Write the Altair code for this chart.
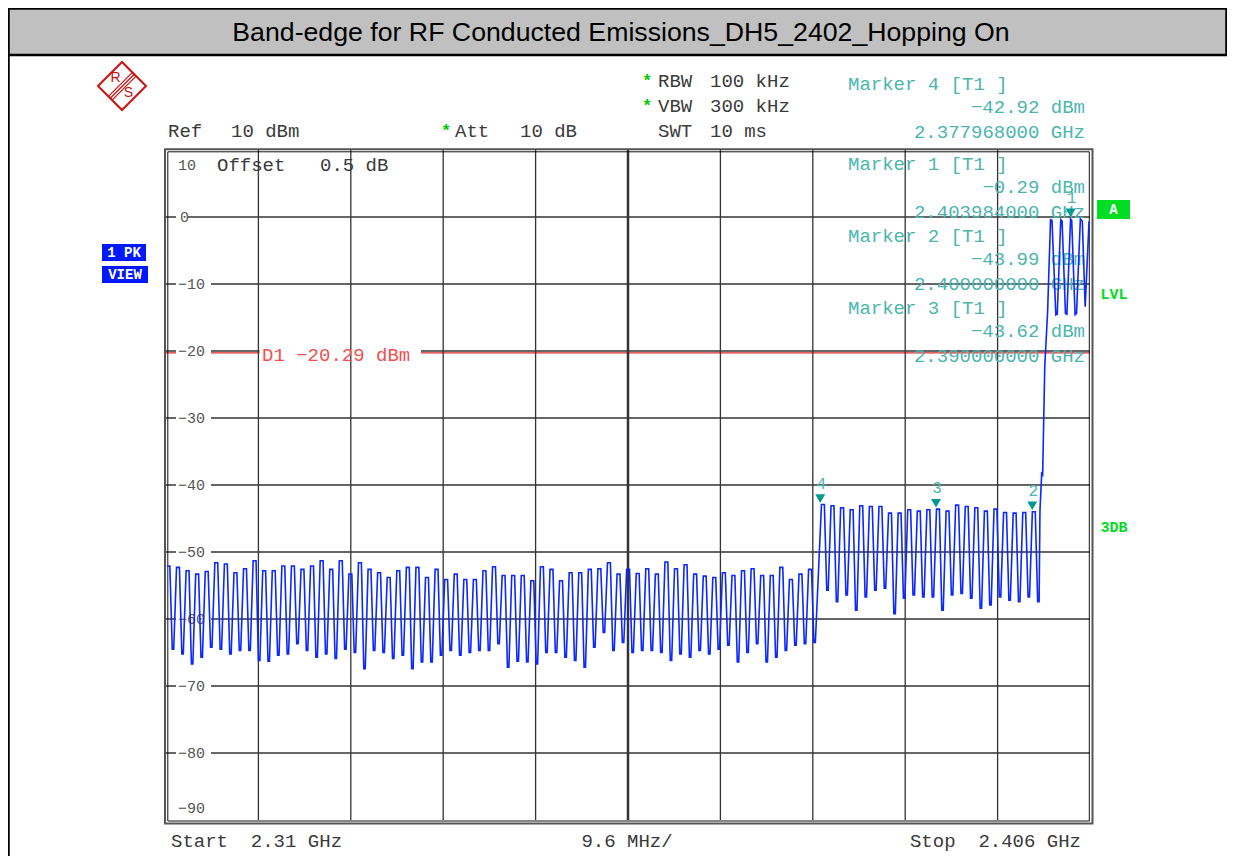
import altair as alt
import pandas as pd

# ---------------- data ----------------
START_MHZ = 2310.0
STOP_MHZ = 2406.0
DIV_MHZ = 9.6
REF_TOP = 10
REF_BOTTOM = -90

# hop peaks / troughs below the step (dBm)
low_peaks = [-52.1, -52.3, -52.8, -53.3, -52.9, -51.6, -51.8, -53.1, -52.5, -51.3, -52.8, -52.8, -52.1, -52.1, -52.6, -52.1, -51.3,
             -52.6, -51.3, -53.3, -51.6, -52.6, -53.1, -53.8, -52.8, -52.3, -52.3, -53.8, -52.6, -54.1, -53.3, -54.1, -54.1, -52.8,
             -52.2, -53.5, -53.5, -53.5, -54.3, -52.2, -52.6, -54.3, -53.1, -53.1, -52.6, -52.5, -51.6, -53.3, -52.6, -53.2,
             -52.5, -53.3, -51.5, -52.5, -51.9, -53.3, -53.6, -53.8, -53.1, -53.5, -52.8, -52.5, -53.5, -53.5, -52.3, -54.1, -53.3, -52.6]
low_troughs = [-64.5, -65.2, -66.7, -65.7, -64.2, -64.5, -65.2, -64.7, -64.7, -66.2, -66.3, -65.4, -65.2, -63.7, -64.7, -65.7, -65.2,
               -65.9, -64.5, -65.0, -67.4, -64.7, -65.0, -65.9, -65.4, -67.4, -66.4, -66.4, -65.4, -64.7, -65.4, -65.0, -64.7,
               -64.7, -63.7, -67.2, -66.3, -66.4, -66.7, -65.0, -65.0, -65.7, -66.2, -67.2, -64.2, -62.0, -64.7, -63.5, -65.0, -64.7,
               -64.7, -65.0, -66.2, -65.2, -65.7, -64.7, -65.2, -64.5, -63.9, -66.4, -65.0, -63.7, -66.4, -65.7, -64.7, -63.9, -63.7, -63.5]
LOW_FIRST_PEAK = 2310.1
LOW_SPACING = 0.995

# hop peaks / troughs between the step and the band edge (dBm)
mid_peaks = [-42.9, -43.1, -43.4, -43.7, -43.1, -43.2, -43.2, -44.2, -44.2, -43.7, -43.9, -43.7, -43.6, -43.9, -43.0,
             -43.2, -43.4, -43.9, -43.6, -44.1, -44.2, -44.1, -44.0]
mid_troughs = [-55.7, -57.4, -56.4, -58.7, -56.7, -55.7, -55.4, -59.2, -56.9, -56.4, -56.7, -56.7, -58.7, -56.4, -56.2,
               -56.9, -58.4, -57.9, -56.7, -57.2, -57.4, -56.7, -57.4]
MID_FIRST_PEAK = 2378.1
MID_SPACING = 0.996

# shape of one hop inside its 1 MHz slot (MHz offsets): top start, top end, bottom start, bottom end
TOP_END, BOT_START, BOT_END = 0.3, 0.55, 0.7

# rise into the in-band channel (MHz, dBm)
edge_freqs = [2400.8, 2400.98, 2401.08, 2401.3, 2401.6, 2401.9, 2402.05, 2402.45, 2402.6, 2402.96, 2403.1, 2403.45,
              2403.6, 2403.98, 2404.1, 2404.45, 2404.6, 2405.0, 2405.2, 2405.5, 2405.9]
edge_levels = [-43.9, -38.3, -38.5, -22.3, -14.0, -0.4, -0.5, -14.6, -14.5, -0.4, -0.6, -14.4, -14.5, -0.29, -0.5,
               -14.6, -14.4, -0.3, -0.6, -13.4, -0.65]

marker_ids = ["1", "2", "3", "4"]
marker_freqs = [2403.984, 2400.0, 2390.0, 2377.968]
marker_levels = [-0.29, -43.99, -43.62, -42.92]

d1_level = -20.29
grid_levels = [0, -10, -20, -30, -40, -50, -60, -70, -80]
tick_labels = ["10", "0", "−10", "−20", "−30", "−40", "−50", "−60", "−70", "−80", "−90"]

TITLE = "Band-edge for RF Conducted Emissions_DH5_2402_Hopping On"

# ---------------- layout ----------------
W, H = 924, 670
X0, Y0 = 166, 150          # page position of the plot origin
MONO = "Liberation Mono"
TEAL = "#4cb5b0"
TEAL_DARK = "#009a94"
GREEN = "#00dd22"
BLUE = "#0a28ff"
RED = "#e02828"
NB = "\u00a0"

xs = alt.Scale(domain=[START_MHZ, STOP_MHZ], nice=False, zero=False)
ys = alt.Scale(domain=[REF_BOTTOM, REF_TOP], nice=False, zero=False)


def ypix(level):
    return (REF_TOP - level) / (REF_TOP - REF_BOTTOM) * H


def minus(s):
    return s.replace("-", "−")


def sp(s):
    return s.replace(" ", NB)


# trace table
tr_f, tr_l = [], []
for first, step, peaks, troughs in ((LOW_FIRST_PEAK, LOW_SPACING, low_peaks, low_troughs),
                                    (MID_FIRST_PEAK, MID_SPACING, mid_peaks, mid_troughs)):
    for i, (p, t) in enumerate(zip(peaks, troughs)):
        f = first + i * step
        tr_f += [f, f + TOP_END, f + BOT_START, f + BOT_END]
        tr_l += [p, p, t, t]
tr_f += edge_freqs
tr_l += edge_levels
trace_df = pd.DataFrame({"f": tr_f, "lvl": tr_l})

layers = []


def texts(rows, align="left", font=MONO, weight="normal", baseline="middle"):
    df = pd.DataFrame(rows, columns=["t", "x", "y", "c", "s"])
    df["t"] = df["t"].map(sp)
    df["px"] = df["x"] - X0
    df["py"] = df["y"] - Y0
    return alt.Chart(df).mark_text(align=align, baseline=baseline, font=font, fontWeight=weight).encode(
        x=alt.X("px:Q", scale=None, axis=None),
        y=alt.Y("py:Q", scale=None, axis=None),
        text="t:N",
        color=alt.Color("c:N", scale=None),
        size=alt.Size("s:Q", scale=None),
    )


def rects(rows, filled=True, sw=1):
    df = pd.DataFrame(rows, columns=["x", "x2", "y", "y2", "c"])
    df["px"] = df["x"] - X0
    df["px2"] = df["x2"] - X0
    df["py"] = df["y"] - Y0
    df["py2"] = df["y2"] - Y0
    if filled:
        mk = alt.Chart(df).mark_rect(strokeWidth=0)
        enc = dict(fill=alt.Fill("c:N", scale=None))
    else:
        mk = alt.Chart(df).mark_rect(filled=False, fillOpacity=0, strokeWidth=sw)
        enc = dict(stroke=alt.Stroke("c:N", scale=None))
    return mk.encode(
        x=alt.X("px:Q", scale=None, axis=None), x2="px2:Q",
        y=alt.Y("py:Q", scale=None, axis=None), y2="py2:Q", **enc)


def segs(rows, sw=1.0):
    df = pd.DataFrame(rows, columns=["x", "y", "x2", "y2", "c"])
    df["px"] = df["x"] - X0
    df["px2"] = df["x2"] - X0
    df["py"] = df["y"] - Y0
    df["py2"] = df["y2"] - Y0
    return alt.Chart(df).mark_rule(strokeWidth=sw).encode(
        x=alt.X("px:Q", scale=None, axis=None), x2="px2:Q",
        y=alt.Y("py:Q", scale=None, axis=None), y2="py2:Q",
        color=alt.Color("c:N", scale=None))


# title bar and outer border
layers.append(rects([(8, 1227, 8, 55, "#c0c0c0")]))
layers.append(rects([(8.5, 1226.5, 8.5, 55, "black")], filled=False, sw=2.5))
layers.append(segs([(8.5, 55, 8.5, 856, "black")], sw=2.5))
layers.append(texts([(TITLE, 621, 33, "black", 26.7)], align="center", font="Liberation Sans"))

# horizontal grid
layers.append(alt.Chart(pd.DataFrame({"lvl": grid_levels})).mark_rule(color="#333333", strokeWidth=1.3).encode(
    y=alt.Y("lvl:Q", scale=ys, axis=None), x=alt.value(0), x2=alt.value(W)))
# display line D1
layers.append(alt.Chart(pd.DataFrame({"lvl": [d1_level]})).mark_rule(color=RED, strokeWidth=1.3).encode(
    y=alt.Y("lvl:Q", scale=ys, axis=None), x=alt.value(0), x2=alt.value(W)))

# gaps in horizontal lines behind labels
gap_rows = []
for lvl in grid_levels:
    yy = Y0 + ypix(lvl)
    right = 188 if lvl == 0 else 211
    gap_rows.append((176, right, yy - 4, yy + 4, "white"))
yd = Y0 + ypix(d1_level)
gap_rows.append((259.5, 421, yd - 5, yd + 5, "white"))
layers.append(rects(gap_rows))

# vertical grid
vf = [START_MHZ + DIV_MHZ * k for k in range(1, 10) if k != 5]
layers.append(alt.Chart(pd.DataFrame({"f": vf})).mark_rule(color="#333333", strokeWidth=1.3).encode(
    x=alt.X("f:Q", scale=xs, axis=None), y=alt.value(0), y2=alt.value(H)))
layers.append(alt.Chart(pd.DataFrame({"f": [START_MHZ + DIV_MHZ * 5]})).mark_rule(color="#333333", strokeWidth=2.5).encode(
    x=alt.X("f:Q", scale=xs, axis=None), y=alt.value(0), y2=alt.value(H)))

# frame (double line)
layers.append(rects([(165, 1092.5, 149.3, 823.5, "#555555")], filled=False, sw=2))
layers.append(rects([(167.8, 1089.3, 151.8, 821, "#111111")], filled=False, sw=1))

# y tick labels
tick_rows = []
for i, lab in enumerate(tick_labels):
    lvl = REF_TOP - 10 * i
    if lvl == REF_TOP:
        yy = 165
    elif lvl == REF_BOTTOM:
        yy = 808
    else:
        yy = Y0 + ypix(lvl)
    xx = 180 if lab == "0" else 178
    tick_rows.append((lab, xx, yy, "#555555", 15))
layers.append(texts(tick_rows))

# header / footer texts
DARK = "#3a3a3a"
layers.append(texts([
    ("Ref", 168, 131, DARK, 19), ("10 dBm", 231, 131, DARK, 19),
    ("Att", 455, 131, DARK, 19), ("10 dB", 520, 131, DARK, 19),
    ("RBW", 658, 81, DARK, 19), ("100 kHz", 710, 81, DARK, 19),
    ("VBW", 658, 106, DARK, 19), ("300 kHz", 710, 106, DARK, 19),
    ("SWT", 658, 131, DARK, 19), ("10 ms", 710, 131, DARK, 19),
    ("Offset", 217, 165, DARK, 19), ("0.5 dB", 320, 165, DARK, 19),
    ("Start  2.31 GHz", 171, 841, DARK, 19),
]))
layers.append(texts([("9.6 MHz/", 627, 841, DARK, 19)], align="center"))
layers.append(texts([("Stop  2.406 GHz", 1081, 841, DARK, 19)], align="right"))
layers.append(texts([("*", 647, 81, "#00cc00", 17), ("*", 647, 106, "#00cc00", 17), ("*", 446, 131, "#00cc00", 17)],
                    align="center", weight="bold"))

# marker info block
order = [3, 0, 1, 2]  # Marker 4 first, then 1, 2, 3
head_y = [84, 164, 236, 308]
left_rows, right_rows = [], []
for k, idx in enumerate(order):
    y0 = head_y[k]
    left_rows.append((f"Marker {marker_ids[idx]} [T1 ]", 848, y0, TEAL, 19))
    right_rows.append((minus(f"{marker_levels[idx]:.2f} dBm"), 1085, y0 + 23, TEAL, 19))
    right_rows.append((f"{marker_freqs[idx] / 1000:.9f} GHz", 1085, y0 + 47.5, TEAL, 19))
layers.append(texts(left_rows))
layers.append(texts(right_rows, align="right"))

# D1 label
layers.append(texts([(minus(f"D1 {d1_level:.2f} dBm"), 262, 355, "#f05050", 19)]))

# trace
layers.append(alt.Chart(trace_df).mark_line(color=BLUE, strokeWidth=1.6, interpolate="linear").encode(
    x=alt.X("f:Q", scale=xs, axis=None), y=alt.Y("lvl:Q", scale=ys, axis=None), order="f:Q"))

# markers
mk_df = pd.DataFrame({"id": marker_ids, "f": marker_freqs, "lvl": marker_levels})
layers.append(alt.Chart(mk_df).mark_point(shape="triangle-down", filled=True, size=100, color=TEAL_DARK, opacity=1,
                                          yOffset=-6).encode(
    x=alt.X("f:Q", scale=xs, axis=None), y=alt.Y("lvl:Q", scale=ys, axis=None)))
layers.append(alt.Chart(mk_df).mark_text(font=MONO, fontSize=16, color=TEAL, dy=-21, dx=1).encode(
    x=alt.X("f:Q", scale=xs, axis=None), y=alt.Y("lvl:Q", scale=ys, axis=None), text="id:N"))

# side soft-keys / status labels
layers.append(rects([(1097, 1130, 200, 219, GREEN), (102, 146, 244, 261, "#0018ff"), (102, 148, 266, 283, "#0018ff")]))
layers.append(texts([("A", 1113.5, 210, "white", 14), ("1 PK", 124, 253, "white", 14), ("VIEW", 125, 275, "white", 14)],
                    align="center", weight="bold"))
layers.append(texts([("LVL", 1114, 294, GREEN, 15), ("3DB", 1114, 527, GREEN, 15)], align="center", weight="bold"))

# R&S logo
logo_df = pd.DataFrame({"px": [122 - X0], "py": [86 - Y0]})
layers.append(alt.Chart(logo_df).mark_point(shape="diamond", size=2304, filled=False, stroke="#cc1111",
                                            strokeWidth=2, fill="white", fillOpacity=1).encode(
    x=alt.X("px:Q", scale=None, axis=None), y=alt.Y("py:Q", scale=None, axis=None)))
stripe_rows = []
for d in (-1.8, 0.0, 1.8):
    stripe_rows.append((134.5 + d, 74 + d, 110.5 + d, 98 + d, "#cc1111"))
layers.append(segs(stripe_rows, sw=1.2))
layers.append(texts([("R", 115.5, 78, "#cc1111", 14), ("S", 128.5, 93, "#cc1111", 14)], align="center",
                    font="Liberation Sans"))

chart = alt.layer(*layers).properties(
    width=W, height=H,
    autosize=alt.AutoSizeParams(type="none"),
    padding={"left": X0 - 8, "top": Y0 - 8, "right": 1227 - X0 - W, "bottom": 856 - Y0 - H},
    background="white",
).configure_view(stroke=None)

chart.save("out.html", embed_options={"renderer": "svg", "actions": False})
